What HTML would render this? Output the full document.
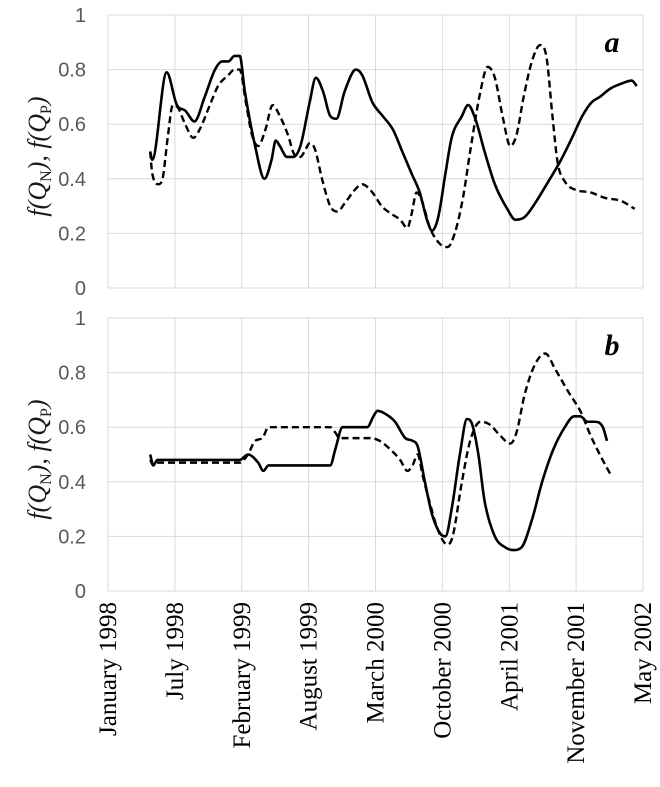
<!DOCTYPE html>
<html><head><meta charset="utf-8"><style>
body{margin:0;background:#fff;}
svg{display:block;}
</style></head><body>
<svg id="chart" width="660" height="787" xmlns="http://www.w3.org/2000/svg"></svg>
<script>
// x values: months since January 1998 (axis 0..52)
const xTickLabels = ["January 1998","July 1998","February 1999","August 1999","March 2000","October 2000","April 2001","November 2001","May 2002"];
const yTickLabels = ["0","0.2","0.4","0.6","0.8","1"];
const yTickValues = [0,0.2,0.4,0.6,0.8,1];

const aSolidX = [4.1,4.3,5.7,6.7,7.5,8.4,9.4,10.4,11.1,11.7,12.3,12.8,13.3,14.3,15.2,15.9,16.3,16.7,17.4,18.0,18.7,19.6,20.2,20.9,21.6,22.2,23.0,24.1,24.7,25.7,26.7,27.7,28.6,29.5,30.3,31.0,31.5,32.1,32.8,33.4,34.4,35.0,35.7,36.6,37.6,38.8,39.6,40.5,41.5,42.8,43.9,45.1,46.1,47.0,47.8,48.8,50.0,50.9,51.4];
const aSolidY = [0.5,0.47,0.79,0.67,0.65,0.61,0.7,0.8,0.83,0.83,0.85,0.85,0.72,0.52,0.40,0.47,0.54,0.52,0.48,0.48,0.52,0.68,0.77,0.72,0.63,0.62,0.72,0.8,0.78,0.68,0.63,0.58,0.5,0.42,0.35,0.25,0.21,0.26,0.42,0.55,0.63,0.67,0.62,0.5,0.38,0.29,0.25,0.26,0.31,0.39,0.46,0.55,0.63,0.68,0.70,0.73,0.75,0.76,0.74];
const aDashX = [4.1,4.3,4.9,5.3,5.8,6.3,6.8,7.5,8.3,8.9,9.9,10.7,11.7,12.3,12.8,13.4,14.0,14.6,15.3,16.0,16.7,17.5,18.1,18.7,19.1,19.6,20.1,20.8,21.6,22.3,23.0,24.0,24.7,25.7,26.6,27.6,28.4,29.1,29.5,30.0,30.5,31.3,32.3,33.0,33.7,34.5,35.2,36.2,36.9,37.6,38.4,39.1,39.7,40.4,41.2,42.0,42.6,43.2,43.7,44.4,45.4,46.9,48.3,49.8,51.2];
const aDashY = [0.5,0.42,0.38,0.4,0.55,0.67,0.66,0.6,0.55,0.58,0.67,0.74,0.78,0.80,0.8,0.68,0.56,0.52,0.58,0.67,0.63,0.56,0.49,0.48,0.5,0.53,0.51,0.4,0.3,0.28,0.31,0.36,0.38,0.35,0.3,0.27,0.25,0.22,0.27,0.35,0.32,0.22,0.16,0.15,0.2,0.33,0.5,0.72,0.81,0.77,0.62,0.52,0.56,0.7,0.83,0.89,0.85,0.63,0.46,0.39,0.36,0.35,0.33,0.32,0.29];
const bSolidX = [4.1,4.4,4.8,12.8,13.6,14.6,15.1,15.6,21.6,22.1,22.8,25.2,25.8,26.2,26.9,27.9,28.9,29.6,30.1,30.8,31.5,32.3,32.8,33.4,34.2,34.9,35.4,36.0,36.6,37.6,38.6,39.4,40.2,41.2,42.2,43.3,44.4,45.3,45.9,46.6,47.3,48.1,48.5];
const bSolidY = [0.5,0.46,0.48,0.48,0.5,0.47,0.44,0.46,0.46,0.52,0.6,0.6,0.64,0.66,0.65,0.62,0.56,0.55,0.53,0.4,0.28,0.21,0.2,0.3,0.5,0.63,0.61,0.5,0.33,0.2,0.16,0.15,0.16,0.26,0.4,0.52,0.6,0.64,0.64,0.62,0.62,0.6,0.55];
const bDashX = [4.1,4.4,4.8,12.8,13.6,14.3,15.0,15.6,21.6,22.1,22.5,25.5,26.4,27.4,28.4,29.1,29.6,30.1,30.6,31.3,32.1,33.0,33.5,34.4,35.2,36.2,37.1,38.1,39.1,39.7,40.5,41.5,42.5,43.5,44.9,45.9,46.9,47.8,48.8];
const bDashY = [0.48,0.46,0.47,0.47,0.5,0.55,0.56,0.6,0.6,0.58,0.56,0.56,0.55,0.52,0.48,0.44,0.46,0.5,0.42,0.32,0.22,0.17,0.2,0.4,0.55,0.62,0.61,0.57,0.54,0.58,0.72,0.83,0.87,0.81,0.72,0.66,0.57,0.5,0.43];

const NS="http://www.w3.org/2000/svg";
const svg=document.getElementById('chart');
const X0=108,X1=643, XMAX=52;
const xs=v=>X0+(X1-X0)*v/XMAX;
function mk(tag,attrs,parent){const e=document.createElementNS(NS,tag);for(const k in attrs)e.setAttribute(k,attrs[k]);(parent||svg).appendChild(e);return e;}
function monoPath(px,py){
  const n=px.length,d=[],m=[];
  for(let i=0;i<n-1;i++)d.push((py[i+1]-py[i])/(px[i+1]-px[i]));
  m[0]=d[0];m[n-1]=d[n-2];
  for(let i=1;i<n-1;i++){m[i]=(d[i-1]*d[i]<=0)?0:(d[i-1]+d[i])/2;}
  for(let i=0;i<n-1;i++){if(d[i]===0){m[i]=0;m[i+1]=0;continue;}const a=m[i]/d[i],b=m[i+1]/d[i],s=a*a+b*b;if(s>9){const t=3/Math.sqrt(s);m[i]=t*a*d[i];m[i+1]=t*b*d[i];}}
  let p=`M${px[0]},${py[0]}`;
  for(let i=0;i<n-1;i++){const h=(px[i+1]-px[i])/3;p+=` C${px[i]+h},${py[i]+m[i]*h} ${px[i+1]-h},${py[i+1]-m[i+1]*h} ${px[i+1]},${py[i+1]}`;}
  return p;
}
function panel(name,top,bottom,sx,sy,dx,dy,letter){
  const ys=v=>bottom-(bottom-top)*v;
  const g=mk('g',{});
  
  
  for(let i=0;i<xTickLabels.length;i++){
    const x=xs(i*XMAX/(xTickLabels.length-1));
    const l=mk('line',{x1:x,x2:x,y1:top,y2:bottom,stroke:'#d9d9d9','stroke-width':1},g);
    
    
  }
  yTickValues.forEach((v,i)=>{
    const l=mk('line',{x1:X0,x2:X1,y1:ys(v),y2:ys(v),stroke:'#d9d9d9','stroke-width':1},g);
    
    
    const t=mk('text',{x:86,y:ys(v)+7,'text-anchor':'end','font-size':20,fill:'#595959','font-family':'Liberation Sans, sans-serif'},g);
    t.textContent=yTickLabels[i];
    
    
  });
  const s=mk('path',{d:monoPath(sx.map(xs),sy.map(ys)),fill:'none',stroke:'#000','stroke-width':2.6},g);
  
  
  const dd=mk('path',{d:monoPath(dx.map(xs),dy.map(ys)),fill:'none',stroke:'#000','stroke-width':2.4,'stroke-dasharray':'7,4'},g);
  
  
  const lt=mk('text',{x:612,y:top+37,'text-anchor':'middle','font-size':30,'font-weight':'bold','font-style':'italic','font-family':'Liberation Serif, serif'},g);
  lt.textContent=letter;
  
  
  const cy=(top+bottom)/2;
  const yt=mk('text',{x:0,y:0,transform:`translate(46,${cy+5}) rotate(-90)`,'text-anchor':'middle','font-size':26,'font-style':'italic','font-family':'Liberation Serif, serif',fill:'#1a1a1a'},g);
  yt.innerHTML='f(<tspan>Q</tspan><tspan font-size="16" dy="5" font-style="normal">N</tspan><tspan dy="-5">), f(Q</tspan><tspan font-size="16" dy="5" font-style="normal">P</tspan><tspan dy="-5">)</tspan>';
  
  
}
panel('a',15,288,aSolidX,aSolidY,aDashX,aDashY,'a');
panel('b',318,591,bSolidX,bSolidY,bDashX,bDashY,'b');
xTickLabels.forEach((lab,i)=>{
  const x=xs(i*XMAX/(xTickLabels.length-1));
  const t=mk('text',{x:0,y:0,transform:`translate(${x+8},602) rotate(-90)`,'text-anchor':'end','font-size':25,'font-family':'Liberation Serif, serif',fill:'#000'});
  t.textContent=lab;
  
  
});
</script>
</body></html>
